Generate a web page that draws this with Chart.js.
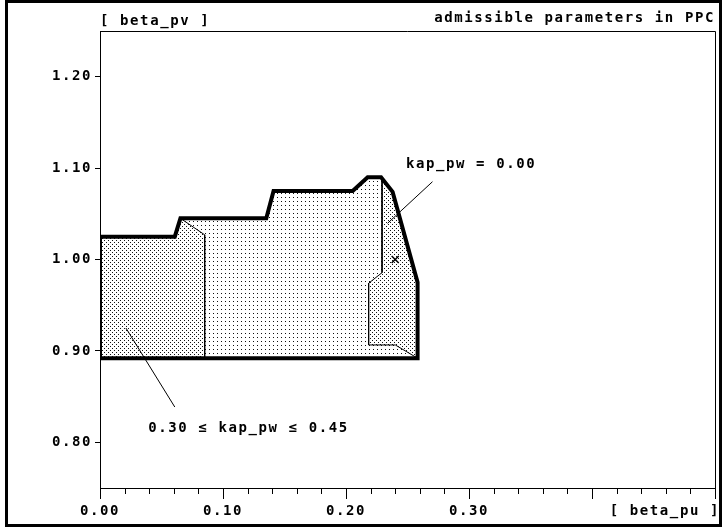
<!DOCTYPE html>
<html>
<head>
<meta charset="utf-8">
<script src="https://cdn.jsdelivr.net/npm/chart.js@4.4.1/dist/chart.umd.min.js"></script>
<style>
  html, body { margin: 0; padding: 0; background: #fff; }
  canvas { display: block; }
</style>
</head>
<body>
<canvas id="c" width="723" height="529"></canvas>
<script>
// ---------- data ----------
const xTickValues = [0, 0.1, 0.2, 0.3, 0.4, 0.5];
const xTickLabels = ['0.00', '0.10', '0.20', '0.30', '', ''];
const yTickValues = [0.8, 0.9, 1.0, 1.1, 1.2];
const yTickLabels = ['0.80', '0.90', '1.00', '1.10', '1.20'];

// outer admissible region (thick boundary)
const outerX = [0, 0.0608, 0.0654, 0.1352, 0.1411, 0.2054, 0.2176, 0.2285, 0.2379, 0.2582, 0.2582, 0, 0];
const outerY = [1.025, 1.025, 1.045, 1.045, 1.075, 1.075, 1.09, 1.09, 1.074, 0.975, 0.892, 0.892, 1.025];

// 0.30 <= kap_pw <= 0.45 region (dense)
const leftX = [0, 0, 0.0608, 0.0654, 0.0851, 0.0851, 0];
const leftY = [0.892, 1.025, 1.025, 1.045, 1.027, 0.892, 0.892];

// kap_pw = 0.00 region (dense)
const rightX = [0.2293, 0.2379, 0.2582, 0.2582, 0.2401, 0.2184, 0.2184, 0.2293, 0.2293];
const rightY = [1.09, 1.074, 0.975, 0.892, 0.9065, 0.9065, 0.974, 0.9856, 1.09];

// inner thin boundaries
const innerLX = [0.0654, 0.0851, 0.0851];
const innerLY = [1.045, 1.027, 0.892];
const innerRX = [0.2293, 0.2293, 0.2184, 0.2184, 0.2401, 0.2582];
const innerRY = [1.09, 0.9856, 0.974, 0.9065, 0.9065, 0.892];

// leader lines
const leader1X = [0.2703, 0.2338];
const leader1Y = [1.0851, 1.0396];
const leader2X = [0.0211, 0.0608];
const leader2Y = [0.925, 0.8386];

// operating point
const markX = [0.24];
const markY = [1.00];

// annotation texts
const labelKap0 = 'kap_pw = 0.00';
const labelKapRange = '0.30 \u2264 kap_pw \u2264 0.45';
const titleLeft = '[ beta_pv ]';
const titleRight = 'admissible parameters in PPC';
const xAxisName = '[ beta_pu ]';

// ---------- helpers ----------
const pts = (xs, ys) => xs.map((x, i) => ({ x: x, y: ys[i] }));
const FONT_FAMILY = '"DejaVu Sans Mono", "Liberation Mono", monospace';
const FONT_SIZE = 14;
const FONT = 'bold ' + FONT_SIZE + 'px ' + FONT_FAMILY;
const LSP = '1.6px';

const canvas = document.getElementById('c');
const mainCtx = canvas.getContext('2d');
function makePattern(dots, size) {
  const c = document.createElement('canvas');
  c.width = size; c.height = size;
  const g = c.getContext('2d');
  g.fillStyle = '#ffffff';
  g.fillRect(0, 0, size, size);
  g.fillStyle = '#111111';
  dots.forEach(d => g.fillRect(d[0], d[1], 1, 1));
  return mainCtx.createPattern(c, 'repeat');
}
const lightPattern = makePattern([[1, 1]], 4);
const densePattern = makePattern([[0, 0], [2, 2]], 4);

const lineDs = (data, width, order, extra) => Object.assign({
  data: data, showLine: true, borderColor: '#000', borderWidth: width,
  pointRadius: 0, pointHoverRadius: 0, fill: false, tension: 0, order: order,
  borderJoinStyle: 'miter', borderCapStyle: 'butt'
}, extra || {});

const decorPlugin = {
  id: 'decor',
  beforeDraw(chart) {
    const ctx = chart.ctx;
    ctx.letterSpacing = LSP;
    ctx.save();
    ctx.fillStyle = '#fff';
    ctx.fillRect(0, 0, chart.width, chart.height);
    ctx.restore();
  },
  afterDraw(chart) {
    const ctx = chart.ctx;
    const a = chart.chartArea;
    const xs = chart.scales.x, ys = chart.scales.y;
    ctx.save();
    ctx.letterSpacing = LSP;
    ctx.strokeStyle = '#000';
    ctx.lineWidth = 1;
    // top and right frame of the plot
    ctx.beginPath();
    ctx.moveTo(a.left, a.top + 0.5);
    ctx.lineTo(Math.round(a.right) + 0.5, a.top + 0.5);
    ctx.lineTo(Math.round(a.right) + 0.5, a.bottom);
    ctx.stroke();
    // minor x ticks every 0.02
    ctx.beginPath();
    for (let k = 1; k < 25; k++) {
      if (k % 5 === 0) continue;
      const px = Math.round(xs.getPixelForValue(k * 0.02)) + 0.5;
      ctx.moveTo(px, a.bottom);
      ctx.lineTo(px, a.bottom + 6);
    }
    ctx.stroke();
    // texts
    ctx.fillStyle = '#000';
    ctx.font = FONT;
    ctx.textBaseline = 'alphabetic';
    ctx.textAlign = 'left';
    ctx.fillText(titleLeft, a.left, 25);
    ctx.textAlign = 'right';
    ctx.fillText(titleRight, a.right, 22);
    ctx.fillText(xAxisName, 720, 515);
    ctx.textAlign = 'left';
    ctx.fillText(labelKap0, xs.getPixelForValue(0.2487), ys.getPixelForValue(1.0998));
    ctx.fillText(labelKapRange, xs.getPixelForValue(0.0392), ys.getPixelForValue(0.8116));
    // outer frame
    ctx.lineWidth = 3;
    ctx.strokeRect(6.5, 1.5, 714, 524);
    ctx.restore();
  }
};

new Chart(canvas, {
  type: 'scatter',
  data: {
    datasets: [
      lineDs(pts(outerX, outerY), 0, 10, { fill: 'shape', backgroundColor: lightPattern, borderColor: 'rgba(0,0,0,0)' }),
      lineDs(pts(leftX, leftY), 0, 9, { fill: 'shape', backgroundColor: densePattern, borderColor: 'rgba(0,0,0,0)' }),
      lineDs(pts(rightX, rightY), 0, 8, { fill: 'shape', backgroundColor: densePattern, borderColor: 'rgba(0,0,0,0)' }),
      lineDs(pts(innerLX, innerLY), 1, 5),
      lineDs(pts(innerRX, innerRY), 1, 5),
      lineDs(pts(outerX, outerY), 4, 3),
      lineDs(pts(leader1X, leader1Y), 1, 2),
      lineDs(pts(leader2X, leader2Y), 1, 2),
      {
        data: pts(markX, markY), showLine: false, pointStyle: 'crossRot',
        pointRadius: 5, pointBorderWidth: 1.5, borderColor: '#000', backgroundColor: '#000', order: 1
      }
    ]
  },
  options: {
    responsive: false,
    devicePixelRatio: 1,
    animation: false,
    events: [],
    layout: { padding: { left: 0, right: 8, top: 31, bottom: 0 } },
    plugins: { legend: { display: false }, tooltip: { enabled: false }, title: { display: false } },
    scales: {
      x: {
        type: 'linear', min: 0, max: 0.5,
        afterBuildTicks: s => { s.ticks = xTickValues.map(v => ({ value: v })); },
        afterFit: s => { s.height = 41; },
        grid: { display: true, drawOnChartArea: false, drawTicks: true, tickLength: 11, tickColor: '#000', tickWidth: 1 },
        border: { display: true, color: '#000', width: 1 },
        ticks: {
          autoSkip: false, maxRotation: 0, minRotation: 0, padding: 4, color: '#000',
          font: { family: FONT_FAMILY, size: FONT_SIZE, weight: 'bold' },
          callback: (v, i) => xTickLabels[i]
        }
      },
      y: {
        type: 'linear', min: 0.75, max: 1.25,
        afterBuildTicks: s => { s.ticks = yTickValues.map(v => ({ value: v })); },
        afterFit: s => { s.width = 100; },
        grid: { display: true, drawOnChartArea: false, drawTicks: true, tickLength: 5, tickColor: '#000', tickWidth: 1 },
        border: { display: true, color: '#000', width: 1 },
        ticks: {
          autoSkip: false, padding: 3, color: '#000',
          font: { family: FONT_FAMILY, size: FONT_SIZE, weight: 'bold' },
          callback: (v, i) => yTickLabels[i]
        }
      }
    }
  },
  plugins: [decorPlugin]
});
</script>
</body>
</html>
